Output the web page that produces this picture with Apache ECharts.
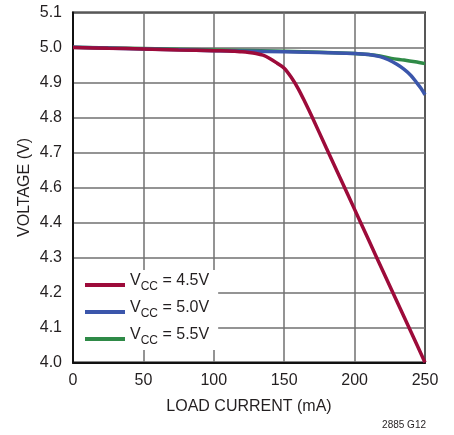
<!DOCTYPE html>
<html>
<head>
<meta charset="utf-8">
<script src="https://cdn.jsdelivr.net/npm/echarts@6/dist/echarts.min.js"></script>
<style>
html,body{margin:0;padding:0;background:#fff;}
#c{width:454px;height:435px;}
</style>
</head>
<body>
<div id="c"></div>
<script>
// Tick labels as printed on the reference (note: no 4.5 label)
var yTickLabels = ['4.0','4.1','4.2','4.3','4.4','4.6','4.7','4.8','4.9','5.0','5.1'];
var xTicks = [0, 50, 100, 150, 200, 250];

// LOAD CURRENT (mA)
var x45 = [0, 25, 50, 75, 100, 110, 115, 120, 125, 130, 135, 140, 145, 150, 155, 160, 165, 170, 180, 190, 200, 210, 220, 230, 240, 250];
// VOLTAGE (V), read against the printed tick labels
var v45 = [5.000, 4.998, 4.996, 4.993, 4.991, 4.990, 4.989, 4.988, 4.986, 4.983, 4.978, 4.968, 4.955, 4.941, 4.915, 4.882, 4.842, 4.800, 4.712, 4.625, 4.475, 4.350, 4.262, 4.175, 4.088, 4.000];

var x50 = [0, 50, 100, 150, 200, 210, 218, 224, 230, 235, 240, 244, 247, 250];
var v50 = [5.001, 4.996, 4.991, 4.988, 4.983, 4.980, 4.974, 4.965, 4.952, 4.938, 4.920, 4.900, 4.884, 4.865];

var x55 = [0, 50, 100, 150, 200, 210, 218, 226, 235, 243, 250];
var v55 = [5.001, 4.997, 4.993, 4.989, 4.983, 4.980, 4.976, 4.969, 4.964, 4.959, 4.954];

var colors = ['#9d0b3a', '#3b56ab', '#2f8a47'];

// Map a value read against the printed labels onto the gridline index scale
var tickVals = yTickLabels.map(parseFloat);
function toIndex(v) {
  for (var i = 0; i < tickVals.length - 1; i++) {
    if (v <= tickVals[i + 1] || i === tickVals.length - 2) {
      return i + (v - tickVals[i]) / (tickVals[i + 1] - tickVals[i]);
    }
  }
}
function pairs(xs, vs) {
  return xs.map(function (x, i) { return [x, toIndex(vs[i])]; });
}

var FONT = '"Liberation Sans", Arial, sans-serif';
var TXT = '#231f20';

var chart = echarts.init(document.getElementById('c'), null, {renderer: 'canvas'});
chart.setOption({
  animation: false,
  backgroundColor: '#fff',
  grid: {
    left: 73, right: 29, top: 12.5, bottom: 72.5,
    show: true, borderColor: '#111', borderWidth: 2, backgroundColor: 'transparent'
  },
  legend: {
    orient: 'vertical',
    left: 74, top: 270,
    backgroundColor: '#fff',
    padding: [3, 9, 3, 11],
    itemWidth: 40, itemHeight: 4, itemGap: 7,
    icon: 'rect',
    data: ['VCC = 4.5V', 'VCC = 5.0V', 'VCC = 5.5V'],
    formatter: function (name) {
      return '{v|V}{s|CC}{v| = ' + name.split('= ')[1] + '}';
    },
    textStyle: {
      rich: {
        v: {fontSize: 16, lineHeight: 16, fontFamily: FONT, color: TXT, verticalAlign: 'bottom', padding: [0, 0, 4, 0]},
        s: {fontSize: 12, lineHeight: 16, fontFamily: FONT, color: TXT, verticalAlign: 'bottom'}
      }
    }
  },
  xAxis: {
    type: 'value', min: 0, max: 250, interval: 50,
    name: 'LOAD CURRENT (mA)', nameLocation: 'middle', nameGap: 36, nameMoveOverlap: false,
    nameTextStyle: {fontSize: 16, fontFamily: FONT, color: TXT},
    axisLine: {show: true, lineStyle: {color: '#111', width: 2}},
    axisTick: {show: false},
    axisLabel: {fontSize: 16, fontFamily: FONT, color: TXT, margin: 10,
      formatter: function (v) { return xTicks.indexOf(v) >= 0 ? String(v) : ''; }},
    splitLine: {show: true, lineStyle: {color: '#707070', width: 1.5}}
  },
  yAxis: {
    type: 'value', min: 0, max: 10, interval: 1,
    name: 'VOLTAGE (V)', nameLocation: 'middle', nameGap: 40, nameMoveOverlap: false,
    nameTextStyle: {fontSize: 16, fontFamily: FONT, color: TXT},
    axisLine: {show: true, lineStyle: {color: '#111', width: 2}},
    axisTick: {show: false},
    axisLabel: {fontSize: 16, fontFamily: FONT, color: TXT, margin: 11,
      formatter: function (v) { return yTickLabels[Math.round(v)]; }},
    splitLine: {show: true, lineStyle: {color: '#707070', width: 1.5}}
  },
  graphic: [{
    type: 'text', right: 28, bottom: 5,
    style: {text: '2885 G12', font: '10px ' + FONT, fill: TXT}
  }],
  series: [
    {name: 'VCC = 5.5V', type: 'line', data: pairs(x55, v55), showSymbol: false, smooth: 0.3,
      lineStyle: {color: colors[2], width: 3.5}, itemStyle: {color: colors[2]}, z: 2},
    {name: 'VCC = 5.0V', type: 'line', data: pairs(x50, v50), showSymbol: false, smooth: 0.3,
      lineStyle: {color: colors[1], width: 3.5}, itemStyle: {color: colors[1]}, z: 3},
    {name: 'VCC = 4.5V', type: 'line', data: pairs(x45, v45), showSymbol: false, smooth: 0.3,
      lineStyle: {color: colors[0], width: 3.5}, itemStyle: {color: colors[0]}, z: 4}
  ]
});
</script>
</body>
</html>
